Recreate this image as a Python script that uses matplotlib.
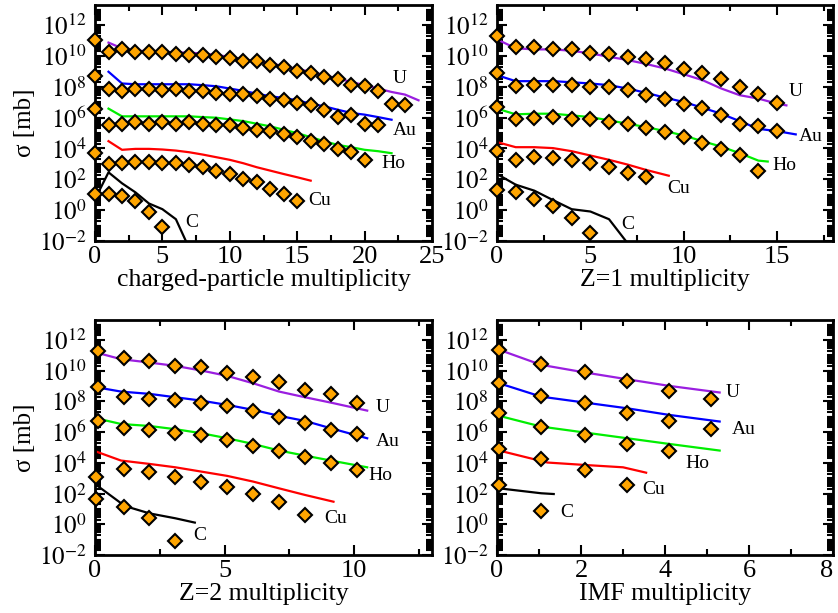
import numpy as np
import matplotlib
matplotlib.use("Agg")
import matplotlib.pyplot as plt
from matplotlib.ticker import MultipleLocator, LogLocator, NullFormatter

plt.rcParams['font.family'] = ['Liberation Serif', 'DejaVu Serif']
plt.rcParams['mathtext.fontset'] = 'stix'

NUCLEI = ['U', 'Au', 'Ho', 'Cu', 'C']
LINE_COLORS = {'U': '#9a1ee0', 'Au': '#0000ff', 'Ho': '#00ee00', 'Cu': '#ff0000', 'C': '#000000'}

# ---- charged-particle multiplicity (values are log10 of sigma [mb]) ----
cp_U_x = [0, 1, 2, 3, 4, 5, 6, 7, 8, 9, 10, 11, 12, 13, 14, 15, 16, 17, 18, 19, 20, 21, 22, 23]
cp_U_y = [11.03, 10.25, 10.44, 10.25, 10.25, 10.25, 10.12, 10.05, 10.05, 9.92, 9.86, 9.66,
          9.66, 9.40, 9.27, 9.01, 8.88, 8.62, 8.49, 8.10, 8.03, 7.71, 6.86, 6.79]
cp_U_lx = [1, 2, 3, 4, 5, 6, 7, 8, 9, 10, 11, 12, 13, 14, 15, 16, 17, 18, 19, 20, 21, 22, 23, 24]
cp_U_ly = [10.86, 10.49, 10.33, 10.31, 10.27, 10.23, 10.20, 10.16, 10.05, 9.94, 9.77, 9.66,
           9.51, 9.34, 9.14, 8.97, 8.75, 8.53, 8.31, 8.10, 7.88, 7.66, 7.49, 7.12]
cp_Au_x = [0, 1, 2, 3, 4, 5, 6, 7, 8, 9, 10, 11, 12, 13, 14, 15, 16, 17, 18, 19, 20, 21]
cp_Au_y = [8.68, 7.82, 7.73, 7.82, 7.82, 7.77, 7.82, 7.73, 7.73, 7.60, 7.56, 7.56,
           7.40, 7.23, 7.12, 6.97, 6.79, 6.51, 6.03, 6.14, 5.60, 5.49]
cp_Au_lx = [1, 2, 3, 4, 5, 6, 7, 8, 9, 10, 11, 12, 13, 14, 15, 16, 17, 18, 19, 20, 21, 22]
cp_Au_ly = [8.97, 8.21, 8.16, 8.16, 8.16, 8.16, 8.16, 8.10, 8.03, 7.88, 7.73, 7.55,
            7.38, 7.27, 7.12, 6.90, 6.73, 6.51, 6.30, 6.19, 6.03, 5.86]
cp_Ho_x = [0, 1, 2, 3, 4, 5, 6, 7, 8, 9, 10, 11, 12, 13, 14, 15, 16, 17, 18, 19, 20]
cp_Ho_y = [6.58, 5.49, 5.60, 5.71, 5.60, 5.71, 5.60, 5.71, 5.56, 5.49, 5.49, 5.34,
           5.21, 5.12, 4.95, 4.73, 4.47, 4.30, 3.93, 3.75, 3.26]
cp_Ho_lx = [1, 2, 3, 4, 5, 6, 7, 8, 9, 10, 11, 12, 13, 14, 15, 16, 17, 18, 19, 20, 21, 22]
cp_Ho_ly = [6.58, 6.08, 6.08, 6.08, 6.08, 6.08, 6.08, 6.03, 5.99, 5.88, 5.77, 5.60,
            5.43, 5.21, 4.99, 4.73, 4.47, 4.23, 4.08, 3.91, 3.82, 3.69]
cp_Cu_x = [0, 1, 2, 3, 4, 5, 6, 7, 8, 9, 10, 11, 12, 13, 14, 15]
cp_Cu_y = [3.69, 2.99, 3.06, 3.15, 3.15, 3.06, 3.06, 2.95, 2.78, 2.56, 2.34, 2.02, 1.80, 1.37, 1.04, 0.61]
cp_Cu_lx = [1, 2, 3, 4, 5, 6, 7, 8, 9, 10, 11, 12, 13, 14, 15, 16]
cp_Cu_ly = [4.47, 3.91, 3.97, 3.97, 3.93, 3.86, 3.75, 3.60, 3.43, 3.26, 3.04, 2.78, 2.56, 2.34, 2.13, 1.91]
cp_C_x = [0, 1, 2, 3, 4, 5]
cp_C_y = [1.04, 1.04, 0.93, 0.56, -0.09, -1.07]
cp_C_lx = [0, 1, 2, 3, 4, 5, 6, 7]
cp_C_ly = [0.71, 2.45, 1.74, 1.15, 0.43, 0.06, -0.59, -2.5]

# ---- Z=1 multiplicity ----
z1_U_x = [0, 1, 2, 3, 4, 5, 6, 7, 8, 9, 10, 11, 12, 13, 14, 15]
z1_U_y = [11.29, 10.60, 10.60, 10.42, 10.42, 10.20, 10.12, 9.94, 9.77, 9.51, 9.12, 8.86, 8.47, 7.99, 7.51, 6.95]
z1_U_lx = [0, 1, 2, 3, 4, 5, 6, 7, 8, 9, 10, 11, 12, 13, 14, 15, 15.5]
z1_U_ly = [11.07, 10.49, 10.42, 10.42, 10.33, 10.16, 9.94, 9.73, 9.47, 9.18, 8.81, 8.43, 7.89, 7.45, 7.23, 6.90, 6.79]
z1_Au_x = [0, 1, 2, 3, 4, 5, 6, 7, 8, 9, 10, 11, 12, 13, 14, 15]
z1_Au_y = [8.90, 8.03, 8.10, 8.10, 8.10, 7.95, 7.95, 7.77, 7.49, 7.23, 6.90, 6.64, 6.19, 5.56, 5.43, 5.10]
z1_Au_lx = [0, 1, 2, 3, 4, 5, 6, 7, 8, 9, 10, 11, 12, 13, 14, 15, 16]
z1_Au_ly = [8.75, 8.36, 8.36, 8.36, 8.29, 8.21, 8.10, 7.88, 7.60, 7.29, 7.01, 6.64, 6.25, 5.77, 5.27, 5.12, 4.91]
z1_Ho_x = [0, 1, 2, 3, 4, 5, 6, 7, 8, 9, 10, 11, 12, 13, 14]
z1_Ho_y = [6.69, 5.93, 5.99, 6.03, 5.93, 5.93, 5.71, 5.60, 5.32, 5.06, 4.73, 4.34, 3.97, 3.60, 2.56]
z1_Ho_lx = [0, 1, 2, 3, 4, 5, 6, 7, 8, 9, 10, 11, 12, 13, 14, 14.5]
z1_Ho_ly = [6.58, 6.21, 6.25, 6.25, 6.14, 6.03, 5.82, 5.60, 5.38, 5.12, 4.84, 4.47, 4.12, 3.69, 3.21, 3.15]
z1_Cu_x = [0, 1, 2, 3, 4, 5, 6, 7, 8]
z1_Cu_y = [3.82, 3.26, 3.47, 3.36, 3.26, 3.06, 2.78, 2.41, 2.13]
z1_Cu_lx = [0, 1, 2, 3, 4, 5, 6, 7, 8, 9.2]
z1_Cu_ly = [4.41, 4.08, 4.08, 4.02, 3.82, 3.54, 3.26, 2.95, 2.60, 2.23]
z1_C_x = [0, 1, 2, 3, 4, 5]
z1_C_y = [1.30, 1.19, 0.71, 0.24, -0.48, -1.50]
z1_C_lx = [0, 1, 2, 3, 4, 5, 6, 6.9]
z1_C_ly = [2.34, 1.65, 1.26, 0.65, 0.06, -0.09, -0.59, -2.0]

# ---- Z=2 multiplicity ----
z2_x = [0.1, 1.1, 2.1, 3.1, 4.1, 5.1, 6.1, 7.1, 8.1, 9.1, 10.1]
z2_lx = [0.05, 1.0, 2.1, 3.1, 4.1, 5.1, 6.1, 7.1, 8.1, 9.1, 10.5]
z2_U_y = [11.25, 10.81, 10.60, 10.33, 10.23, 9.88, 9.57, 9.29, 8.75, 8.49, 7.92]
z2_U_ly = [11.18, 10.75, 10.53, 10.31, 10.01, 9.66, 9.18, 8.64, 8.27, 7.92, 7.40]
z2_Au_y = [8.92, 8.27, 8.16, 8.10, 7.92, 7.71, 7.40, 6.97, 6.62, 6.14, 5.88]
z2_Au_ly = [8.92, 8.64, 8.49, 8.27, 8.05, 7.77, 7.45, 7.06, 6.73, 6.25, 5.60]
z2_Ho_y = [6.75, 6.25, 6.14, 5.97, 5.82, 5.49, 5.12, 4.78, 4.41, 4.02, 3.54]
z2_Ho_ly = [6.90, 6.53, 6.40, 6.19, 5.93, 5.60, 5.23, 4.80, 4.47, 4.15, 3.71]
z2_Cu_x = [0.05, 1.1, 2.1, 3.1, 4.1, 5.1, 6.1, 7.1, 8.1]
z2_Cu_y = [3.06, 3.60, 3.43, 3.10, 2.78, 2.41, 1.97, 1.47, 0.61]
z2_Cu_lx = [0.05, 1.0, 2.1, 3.1, 4.1, 5.1, 6.1, 7.1, 8.1, 9.2]
z2_Cu_ly = [4.73, 4.15, 3.93, 3.71, 3.43, 3.15, 2.78, 2.34, 1.91, 1.47]
z2_C_x = [0.05, 1.1, 2.1, 3.1]
z2_C_y = [1.63, 1.11, 0.39, -1.07]
z2_C_lx = [0.05, 1.15, 2.1, 3.1, 3.85]
z2_C_ly = [2.56, 1.19, 0.71, 0.39, 0.11]

# ---- IMF multiplicity ----
imf_x = [0.05, 1.05, 2.1, 3.1, 4.1, 5.1]
imf_lx = [0.05, 1.05, 2.1, 3.1, 4.1, 5.3]
imf_U_y = [11.36, 10.44, 9.90, 9.34, 8.68, 8.14]
imf_U_ly = [11.36, 10.38, 9.88, 9.44, 9.01, 8.58]
imf_Au_y = [9.23, 8.38, 7.88, 7.27, 6.75, 6.21]
imf_Au_ly = [9.18, 8.31, 7.92, 7.55, 7.12, 6.69]
imf_Ho_y = [7.23, 6.32, 5.82, 5.23, 4.80]
imf_Ho_ly = [7.06, 6.36, 5.97, 5.60, 5.23, 4.80]
imf_Cu_y = [4.88, 4.23, 3.54, 2.56]
imf_Cu_lx = [0.05, 1.2, 2.1, 3.0, 3.55]
imf_Cu_ly = [4.80, 4.02, 3.86, 3.71, 3.36]
imf_C_y = [2.56, 0.89]
imf_C_lx = [0.05, 1.05, 1.35]
imf_C_ly = [2.34, 2.02, 1.97]

# label positions (x, log10 y) for the nucleus names
cp_labels = {'U': (22.6, 8.53), 'Au': (23.0, 5.17), 'Ho': (22.1, 3.0), 'Cu': (16.7, 0.61), 'C': (7.2, -0.81)}
z1_labels = {'U': (16.0, 7.66), 'Au': (16.8, 4.78), 'Ho': (15.4, 2.89), 'Cu': (9.75, 1.37), 'C': (7.0, -0.91)}
z2_labels = {'U': (11.1, 7.62), 'Au': (11.3, 5.38), 'Ho': (11.0, 3.15), 'Cu': (9.3, 0.39), 'C': (4.03, -0.70)}
imf_labels = {'U': (5.62, 8.58), 'Au': (5.88, 6.19), 'Ho': (4.78, 3.97), 'Cu': (3.72, 2.28), 'C': (1.65, 0.76)}

YTICKS = [-2, 0, 2, 4, 6, 8, 10, 12]
IMF_TICKS = [0, 2, 4, 6, 8]


def draw_panel(ax, points, lines, labels, xmax, major, minor, xlabel):
    for nuc in NUCLEI:
        lx, ly = lines[nuc]
        ax.plot(lx, 10.0 ** np.array(ly), color=LINE_COLORS[nuc], lw=1.6, zorder=2)
    for nuc in NUCLEI:
        px, py = points[nuc]
        ax.plot(px, 10.0 ** np.array(py), ls='none', marker='D', ms=7.2,
                mfc='#ffa500', mec='black', mew=1.5, zorder=3, clip_on=False)
    for nuc, (tx, ty) in labels.items():
        ax.text(tx, 10.0 ** ty, nuc, ha='center', va='center', fontsize=14)

    ax.set_yscale('log')
    ax.set_ylim(1e-2, 10 ** 13.3)
    ax.set_xlim(0, xmax)
    ax.set_yticks([10.0 ** e for e in YTICKS])
    ax.set_yticklabels([r'$10^{%d}$' % e for e in YTICKS])
    ax.yaxis.set_minor_locator(LogLocator(base=10, subs=np.arange(1, 10), numticks=200))
    ax.yaxis.set_minor_formatter(NullFormatter())
    ax.xaxis.set_major_locator(MultipleLocator(major))
    ax.xaxis.set_minor_locator(MultipleLocator(minor))
    ax.tick_params(which='both', direction='in', top=True, right=True, width=1.5)
    ax.tick_params(axis='x', labelsize=19)
    ax.tick_params(axis='y', labelsize=18)
    ax.tick_params(which='major', length=7)
    ax.tick_params(which='minor', length=4)
    ax.tick_params(axis='y', which='major', pad=6)
    for sp in ax.spines.values():
        sp.set_linewidth(2)
    ax.set_xlabel(xlabel, fontsize=18.5, labelpad=1)
    ax.set_ylabel('σ [mb]', fontsize=18, labelpad=2)


def main():
    fig = plt.figure(figsize=(8.38, 6.13), dpi=100)
    ax1 = fig.add_axes([0.1134, 0.6069, 0.4021, 0.3850])
    ax2 = fig.add_axes([0.5931, 0.6069, 0.4010, 0.3850])
    ax3 = fig.add_axes([0.1134, 0.0946, 0.4021, 0.3834])
    ax4 = fig.add_axes([0.5931, 0.0946, 0.4010, 0.3834])

    draw_panel(ax1,
               {'U': (cp_U_x, cp_U_y), 'Au': (cp_Au_x, cp_Au_y), 'Ho': (cp_Ho_x, cp_Ho_y),
                'Cu': (cp_Cu_x, cp_Cu_y), 'C': (cp_C_x, cp_C_y)},
               {'U': (cp_U_lx, cp_U_ly), 'Au': (cp_Au_lx, cp_Au_ly), 'Ho': (cp_Ho_lx, cp_Ho_ly),
                'Cu': (cp_Cu_lx, cp_Cu_ly), 'C': (cp_C_lx, cp_C_ly)},
               cp_labels, 25, 5, 2.5, 'charged-particle multiplicity')
    draw_panel(ax2,
               {'U': (z1_U_x, z1_U_y), 'Au': (z1_Au_x, z1_Au_y), 'Ho': (z1_Ho_x, z1_Ho_y),
                'Cu': (z1_Cu_x, z1_Cu_y), 'C': (z1_C_x, z1_C_y)},
               {'U': (z1_U_lx, z1_U_ly), 'Au': (z1_Au_lx, z1_Au_ly), 'Ho': (z1_Ho_lx, z1_Ho_ly),
                'Cu': (z1_Cu_lx, z1_Cu_ly), 'C': (z1_C_lx, z1_C_ly)},
               z1_labels, 18, 5, 2.5, 'Z=1 multiplicity')
    draw_panel(ax3,
               {'U': (z2_x, z2_U_y), 'Au': (z2_x, z2_Au_y), 'Ho': (z2_x, z2_Ho_y),
                'Cu': (z2_Cu_x, z2_Cu_y), 'C': (z2_C_x, z2_C_y)},
               {'U': (z2_lx, z2_U_ly), 'Au': (z2_lx, z2_Au_ly), 'Ho': (z2_lx, z2_Ho_ly),
                'Cu': (z2_Cu_lx, z2_Cu_ly), 'C': (z2_C_lx, z2_C_ly)},
               z2_labels, 13, 5, 2.5, 'Z=2 multiplicity')
    draw_panel(ax4,
               {'U': (imf_x, imf_U_y), 'Au': (imf_x, imf_Au_y), 'Ho': (imf_x[:5], imf_Ho_y),
                'Cu': (imf_x[:4], imf_Cu_y), 'C': (imf_x[:2], imf_C_y)},
               {'U': (imf_lx, imf_U_ly), 'Au': (imf_lx, imf_Au_ly), 'Ho': (imf_lx, imf_Ho_ly),
                'Cu': (imf_Cu_lx, imf_Cu_ly), 'C': (imf_C_lx, imf_C_ly)},
               imf_labels, 8, 2, 1, 'IMF multiplicity')
    # only the left column carries the y-axis title
    ax2.set_ylabel('')
    ax4.set_ylabel('')

    # fixed IMF ticks so the "8" label can be pulled inside the figure edge
    ax4.set_xticks(IMF_TICKS)
    ax4.set_xticklabels([str(t) for t in IMF_TICKS])
    for lab in ax4.get_xticklabels():
        if lab.get_text() == '8':
            lab.set_horizontalalignment('right')

    fig.savefig('out.png', dpi=100)
    plt.close(fig)


if __name__ == "__main__":
    main()
